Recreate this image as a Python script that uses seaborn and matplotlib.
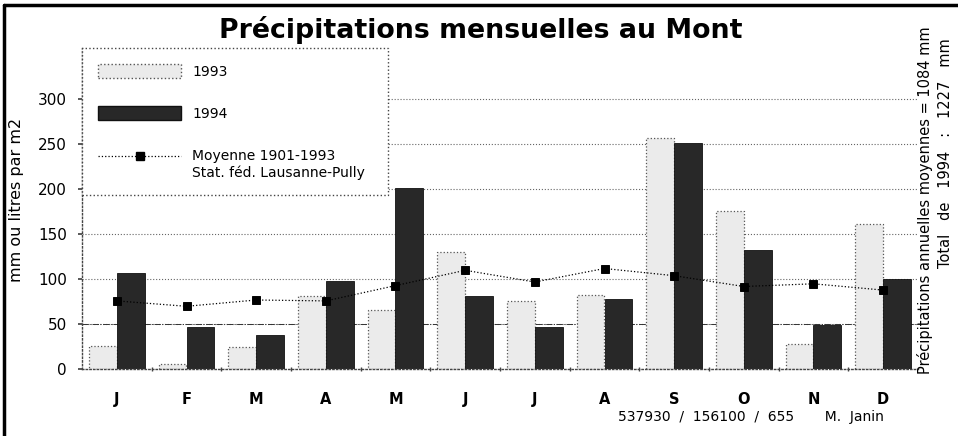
import numpy as np
import pandas as pd
import matplotlib
matplotlib.use('Agg')
import matplotlib.pyplot as plt
import seaborn as sns
from matplotlib.patches import Patch
from matplotlib.lines import Line2D
from matplotlib.legend_handler import HandlerLine2D

# ---- data ----
months = ['Jan', 'Fév', 'Mar', 'Avr', 'Mai', 'Jun', 'Jul', 'Aoû', 'Sep', 'Oct', 'Nov', 'Déc']
month_labels = ['J', 'F', 'M', 'A', 'M', 'J', 'J', 'A', 'S', 'O', 'N', 'D']
rain_1993 = [26, 6, 25, 81, 66, 130, 76, 83, 257, 176, 28, 161]
rain_1994 = [107, 47, 38, 98, 201, 82, 47, 78, 251, 133, 49, 100]
mean_1901_1993 = [76, 70, 77, 76, 93, 110, 97, 112, 104, 92, 95, 88]
yticks = [0, 50, 100, 150, 200, 250, 300]
years = ['1993', '1994']

sns.set_theme(style='white')
plt.rcParams['font.family'] = ['DejaVu Sans']
for k in ['text.color', 'axes.labelcolor', 'xtick.color', 'ytick.color']:
    plt.rcParams[k] = 'black'

df = pd.DataFrame({
    'mois': months * 2,
    'annee': [years[0]] * 12 + [years[1]] * 12,
    'mm': rain_1993 + rain_1994,
})

W, H = 958, 436
fig = plt.figure(figsize=(W / 100, H / 100), dpi=100)
ax = fig.add_axes([82 / W, 1 - 369.3 / H, (918 - 82) / W, (369.3 - 48) / H])

c93, c94 = '#ebebeb', '#282828'
sns.barplot(data=df, x='mois', y='mm', hue='annee', order=months, hue_order=years,
            palette={years[0]: c93, years[1]: c94}, width=0.8, gap=0, saturation=1,
            legend=False, ax=ax, zorder=2)
for bar in ax.containers[0]:
    bar.set_edgecolor('#555555')
    bar.set_linestyle(':')
    bar.set_linewidth(0.9)
for bar in ax.containers[1]:
    bar.set_edgecolor('#111111')
    bar.set_linewidth(0.6)

sns.pointplot(x=months, y=mean_1901_1993, order=months, color='black', markers='s',
              linestyles=':', markersize=6, linewidth=0.9, errorbar=None, ax=ax, zorder=5)

ax.set_xlim(-0.5, 11.5)
ax.set_ylim(0, 357)
ax.set_yticks(yticks)
ax.yaxis.grid(True, ls=':', color='#666666', lw=0.8)
ax.set_axisbelow(True)
ax.axhline(50, color='#333333', ls='-.', lw=0.7, zorder=1)

for s in ['top', 'right']:
    ax.spines[s].set_visible(False)
for s in ['left', 'bottom']:
    ax.spines[s].set_linestyle(':')
    ax.spines[s].set_color('#444444')
    ax.spines[s].set_linewidth(1)

ax.set_xticks(range(12))
ax.set_xticklabels(month_labels, fontweight='bold', fontsize=10.5)
ax.set_xticks(np.arange(0.5, 11, 1), minor=True)
ax.tick_params(axis='x', which='major', length=0, pad=16)
ax.tick_params(axis='x', which='minor', length=3, direction='inout', color='#444444', bottom=True)
ax.tick_params(axis='y', length=3, labelsize=11, left=True, pad=8, color='#444444')
ax.set_xlabel('')
ax.set_ylabel('')

fig.text(17 / W, 1 - 200 / H, 'mm ou litres par m2', rotation=90, ha='center', va='center', fontsize=11.5)
fig.text(481 / W, 1 - 30 / H, 'Précipitations mensuelles au Mont', fontsize=19.3,
         fontweight='bold', ha='center', va='center')
fig.text(925 / W, 1 - 200 / H, 'Précipitations annuelles moyennes = 1084 mm', rotation=90,
         ha='center', va='center', fontsize=10.5)
fig.text(946 / W, 1 - 153 / H, 'Total   de   1994   :   1227   mm', rotation=90,
         ha='center', va='center', fontsize=10.5)
fig.text(618 / W, 1 - 417 / H, '537930  /  156100  /  655       M.  Janin', ha='left', va='center', fontsize=10)


class ShiftedLineHandler(HandlerLine2D):
    def __init__(self, shift, **kw):
        super().__init__(**kw)
        self.shift = shift

    def create_artists(self, legend, orig_handle, xdescent, ydescent, width, height, fontsize, trans):
        arts = super().create_artists(legend, orig_handle, xdescent, ydescent, width, height, fontsize, trans)
        for a in arts:
            a.set_ydata(np.asarray(a.get_ydata(), dtype=float) + self.shift)
        return arts


mean_handle = Line2D([], [], color='black', linestyle=':', marker='s', markersize=6, lw=0.9)
handles = [Patch(facecolor=c93, edgecolor='#555555', linestyle=':'),
           Patch(facecolor=c94, edgecolor='#111111'),
           mean_handle]
labels = [years[0], years[1], 'Moyenne 1901-1993\nStat. féd. Lausanne-Pully']
leg = ax.legend(handles, labels, loc='upper left', bbox_to_anchor=(0, 0, 306 / 836, 1),
                mode='expand', borderaxespad=0, fontsize=10, handlelength=6, handleheight=1.15,
                labelspacing=2.0, handletextpad=0.8, borderpad=1.15, frameon=True, fancybox=False,
                edgecolor='#444444', facecolor='white', framealpha=1,
                handler_map={mean_handle: ShiftedLineHandler(5.5)})
leg.get_frame().set_linestyle(':')
leg.get_frame().set_linewidth(1)

fig.add_artist(Line2D([4 / W, 4 / W], [0, 1 - 5 / H], transform=fig.transFigure, color='black', lw=2.5))
fig.add_artist(Line2D([4 / W, 1], [1 - 5 / H, 1 - 5 / H], transform=fig.transFigure, color='black', lw=2.5))

fig.savefig('out.png', dpi=100)
